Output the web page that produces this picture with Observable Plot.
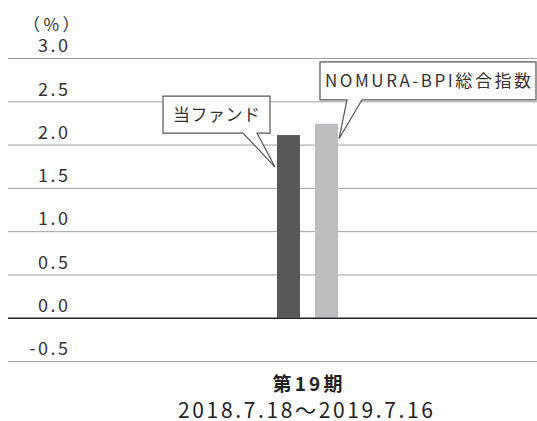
<!DOCTYPE html>
<html><head><meta charset="utf-8">
<script src="https://cdn.jsdelivr.net/npm/d3@7"></script>
<script src="https://cdn.jsdelivr.net/npm/@observablehq/plot@0.6"></script>
<style>body{margin:0;background:#fff;}</style>
</head><body><div id="chart"></div>
<script>
const period = "第19期";
const periodRange = "2018.7.18〜2019.7.16";
const series = ["当ファンド", "NOMURA-BPI総合指数"];
const values = [2.11, 2.24];
const yTicks = [-0.5, 0, 0.5, 1, 1.5, 2, 2.5, 3];
const unitLabel = "（%）";
const colors = ["#58585a", "#bcbdc0"];

const data = series.map((s, i) => ({series: s, value: values[i]}));
const FONT = "'Noto Sans CJK JP', 'Noto Sans', sans-serif";

function annotations(index, scales) {
  const x = scales.x, y = scales.y;
  const bw = typeof x.bandwidth === "function" ? x.bandwidth() : x.bandwidth;
  const g = d3.create("svg:g").attr("font-family", FONT);
  const callouts = [
    {tx: x(series[0]) - 2, ty: y(values[0]) + 32, l: -112, r: -5, t: -71, b: -34, p1: -32, p2: -18, text: series[0], len: 87},
    {tx: x(series[1]) + bw + 1, ty: y(values[1]) + 15, l: -19, r: 197, t: -77, b: -39, p1: 8, p2: 23, text: series[1], len: 206}
  ];
  for (const c of callouts) {
    const L = c.tx + c.l, R = c.tx + c.r, T = c.ty + c.t, B = c.ty + c.b;
    const path = `M${L},${T}H${R}V${B}H${c.tx + c.p2}L${c.tx},${c.ty}L${c.tx + c.p1},${B}H${L}Z`;
    g.append("path").attr("d", path).attr("fill", "#fff").attr("stroke", "#555").attr("stroke-width", 1.2);
    g.append("text").attr("x", (L + R) / 2).attr("y", (T + B) / 2).attr("dy", "0.36em")
      .attr("text-anchor", "middle").attr("font-size", 17).attr("fill", "#333")
      .attr("textLength", c.len).attr("lengthAdjust", "spacing").text(c.text);
  }
  const cx = (x(series[0]) + x(series[1]) + bw) / 2;
  g.append("text").attr("x", cx).attr("y", y(-0.5) + 23).attr("dy", "0.36em")
    .attr("text-anchor", "middle").attr("font-size", 19).attr("font-weight", "bold").attr("fill", "#222")
    .attr("textLength", 70).attr("lengthAdjust", "spacing").text(period);
  g.append("text").attr("x", cx - 2).attr("y", y(-0.5) + 49).attr("dy", "0.36em")
    .attr("text-anchor", "middle").attr("font-size", 21).attr("fill", "#222")
    .attr("textLength", 255).attr("lengthAdjust", "spacing").text(periodRange);
  g.append("text").attr("x", 53).attr("y", y(3) - 33).attr("dy", "0.36em")
    .attr("text-anchor", "middle").attr("font-size", 17).attr("fill", "#333")
    .attr("letter-spacing", "3.5px").text(unitLabel);
  return g.node();
}

const chart = Plot.plot({
  width: 537,
  height: 421,
  marginLeft: 8,
  marginRight: 0,
  marginTop: 58,
  marginBottom: 60,
  style: {fontFamily: FONT, background: "#fff"},
  x: {domain: series, range: [277, 338], paddingInner: 0.395, paddingOuter: 0, axis: null},
  y: {domain: [-0.5, 3], axis: null},
  color: {domain: series, range: colors},
  marks: [
    Plot.ruleY(yTicks.filter(d => d !== 0), {stroke: "#a0a0a0", strokeWidth: 1}),
    Plot.barY(data, {x: "series", y: "value", fill: "series"}),
    Plot.ruleY([0], {stroke: "#222", strokeWidth: 1.5}),
    Plot.text(yTicks, {y: d => d, text: d => d.toFixed(1), frameAnchor: "left", dx: 62, dy: -12,
      textAnchor: "end", fontSize: 18, fill: "#333"}),
    annotations
  ]
});
d3.select(chart).selectAll('g[aria-label="text"]').attr("letter-spacing", "2.5px");
document.getElementById("chart").appendChild(chart);
</script>
</body></html>
